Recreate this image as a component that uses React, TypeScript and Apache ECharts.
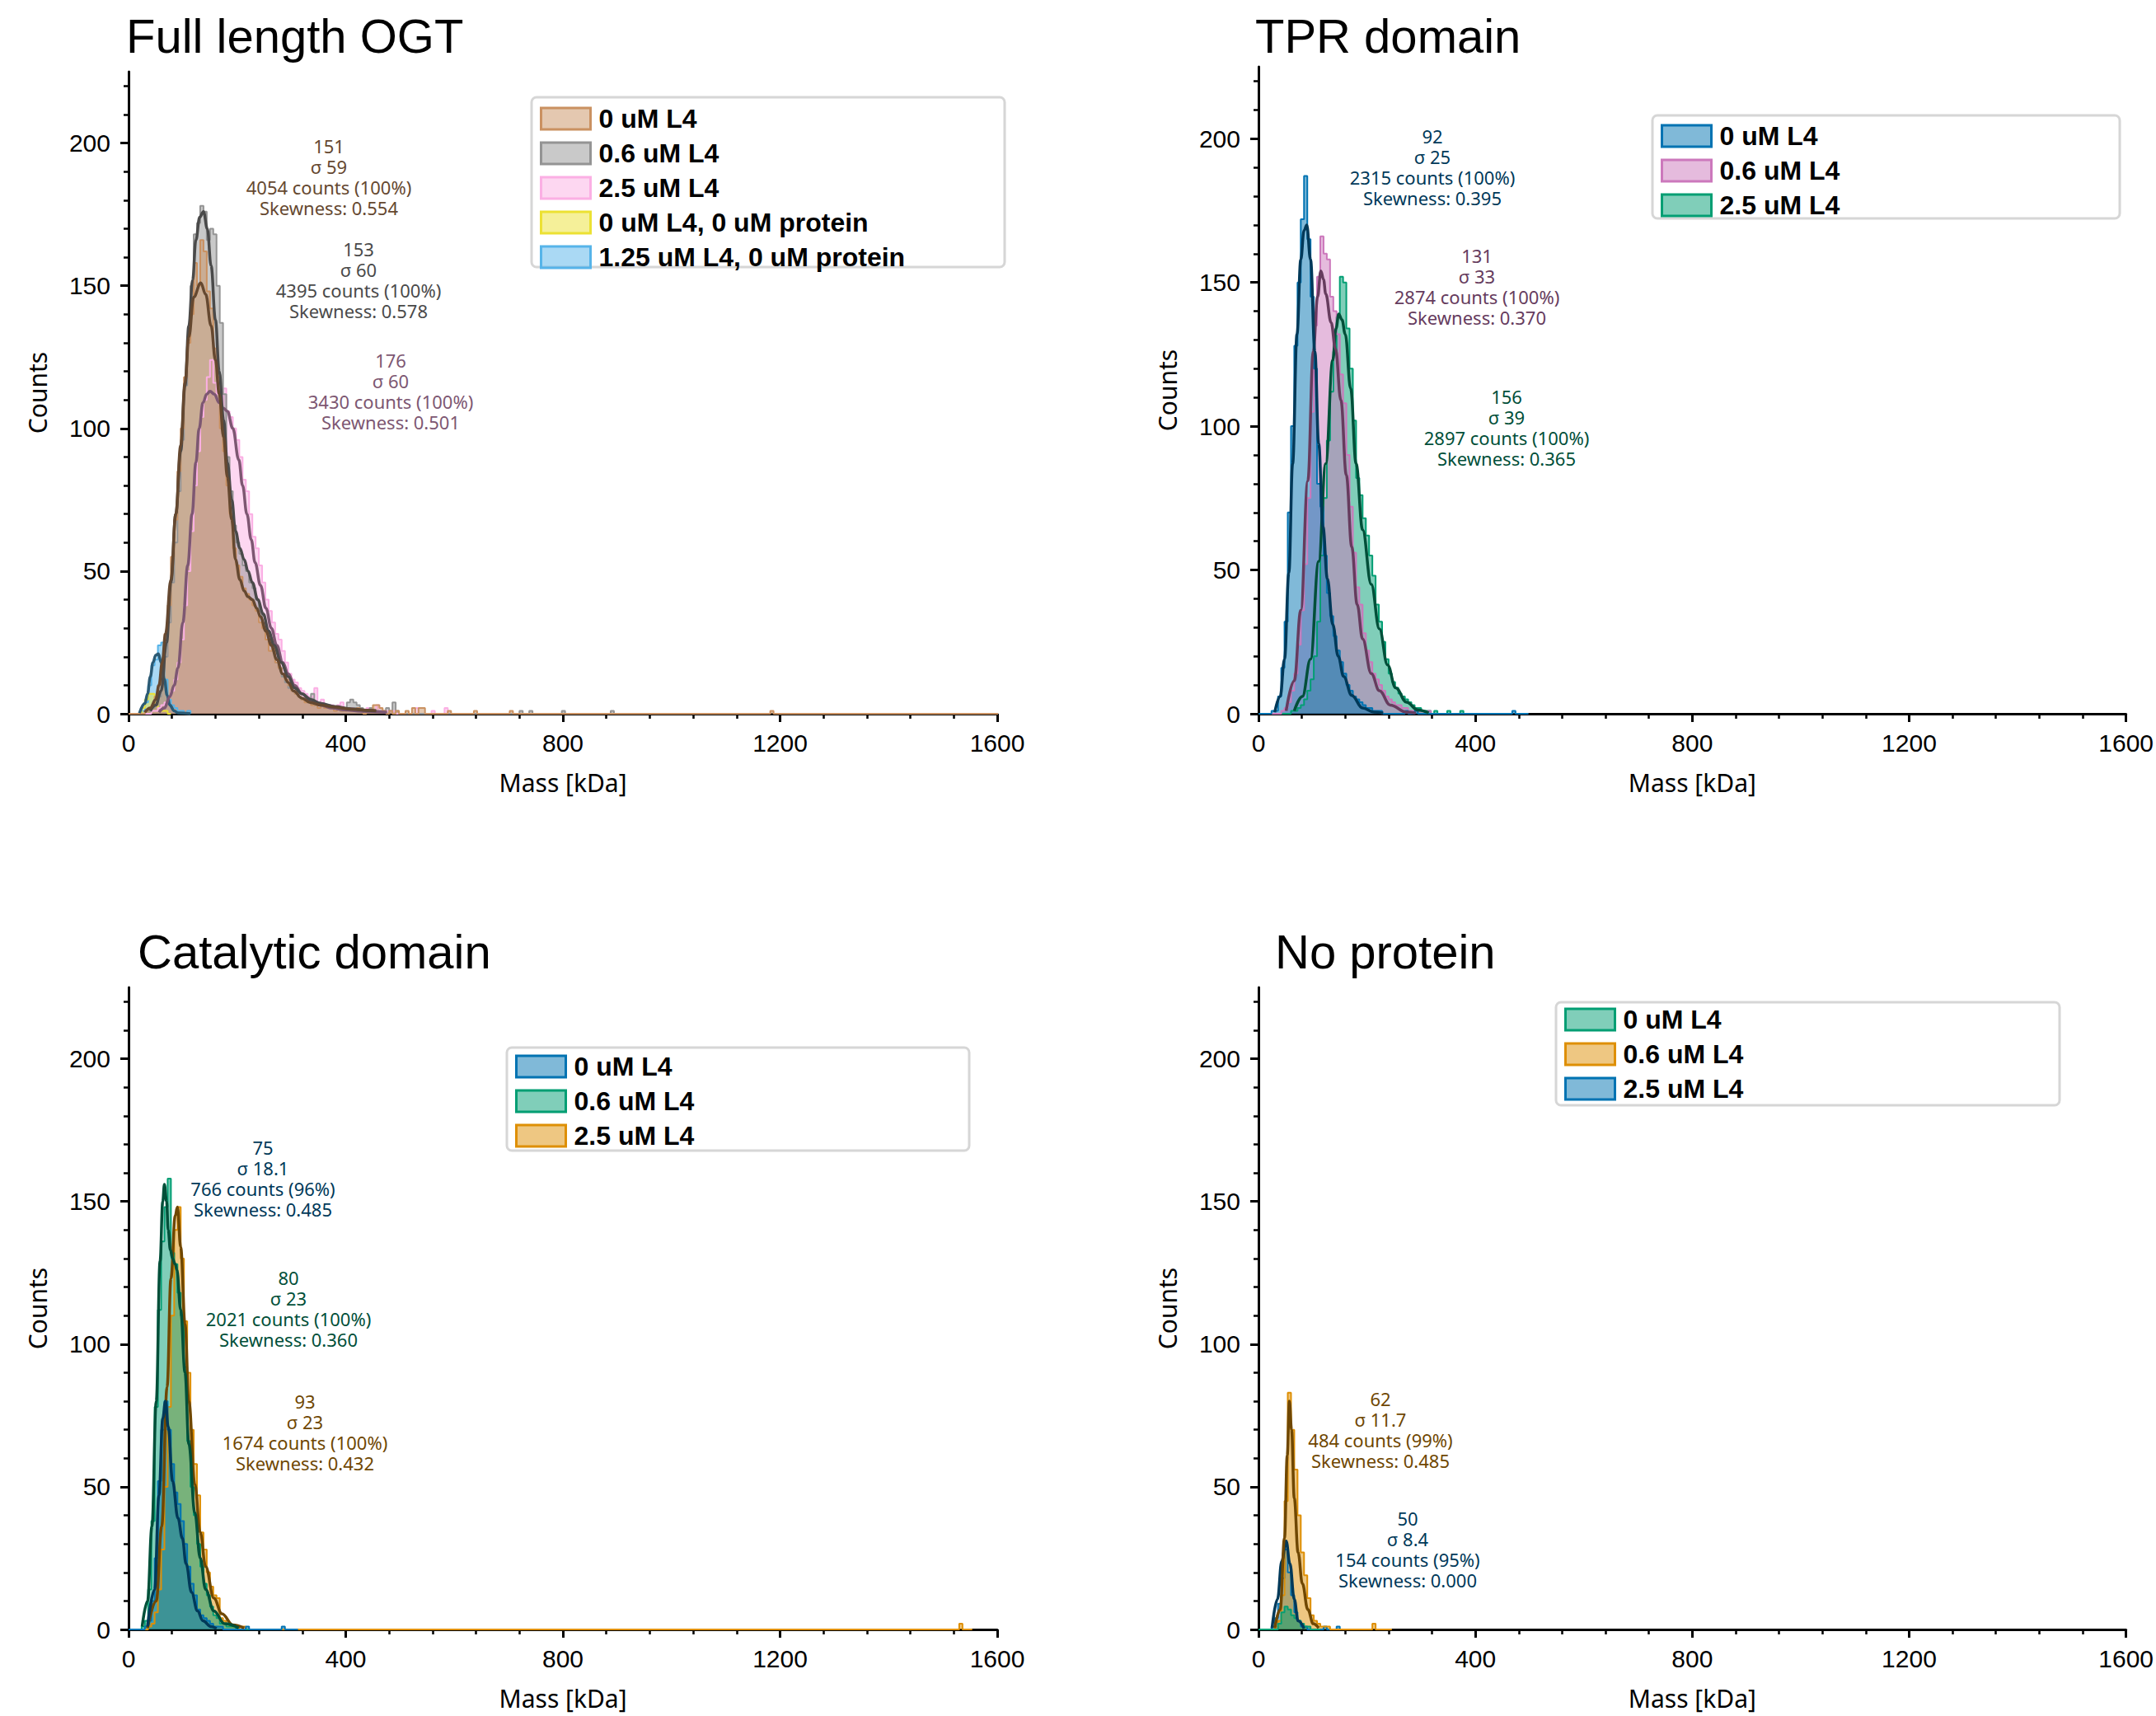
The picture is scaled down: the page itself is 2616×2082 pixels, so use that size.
import React, { useEffect, useRef } from "react";
import * as echarts from "echarts";

// ---------- axis definitions ----------
const BIN_WIDTH = 6; // kDa per histogram bin
const X_MAX = 1600;
const X_INTERVAL = 400;
const Y_MAX = 225;
const yMajorTicks = [0, 50, 100, 150, 200];
const yMinorTicks = [10, 20, 30, 40, 60, 70, 80, 90, 110, 120, 130, 140, 160, 170, 180, 190, 210, 220];

// ---------- Panel 1: Full length OGT ----------
const p1Labels = ["0 uM L4", "0.6 uM L4", "2.5 uM L4", "0 uM L4, 0 uM protein", "1.25 uM L4, 0 uM protein"];
const p1Hist0 = [0,0,0,0,0,1,2,3,6,10,16,28,38,55,68,85,100,118,130,140,158,150,166,162,148,142,128,118,100,92,80,70,58,52,48,44,42,40,38,36,32,30,26,22,26,18,16,14,12,10,8,7,6,5,4,4,3,3,2,3,2,2,2,1,2,1,1,2,1,1,2,1,0,1,1,3,3,2,1,0,1,0,1,0,0,1,0,2,0,2,2,0];
const p1Tail0 = [[591, 1], [639, 1], [705, 1], [1182, 1]];
const p1End0 = 1600;
const p1Hist1 = [0,0,0,0,0,1,1,2,3,6,12,20,32,46,60,78,96,115,132,150,168,172,178,176,166,170,168,150,137,112,90,78,66,60,56,52,50,46,44,40,36,32,28,25,22,18,16,13,11,9,8,7,6,5,5,4,7,3,4,3,2,3,2,2,2,1,2,4,5,4,3,2,1,1,2,1,1,1,1,2,1,4,1];
const p1Tail1 = [[723, 1], [741, 1], [801, 1], [891, 1]];
const p1End1 = 900;
const p1Hist2 = [0,0,0,0,0,0,0,1,1,2,3,4,6,8,12,18,26,38,50,64,80,92,104,110,118,124,116,112,108,114,106,104,100,96,90,82,78,70,62,58,52,46,40,36,32,28,26,22,18,14,12,11,9,8,7,6,6,9,4,5,3,3,3,2,3,4,2,2,2,1,2,1,1,2,1,1,3,1,1,1,1,1];
const p1Tail2 = [[533, 2], [561, 1], [587, 2]];
const p1End2 = 600;
const p1Hist3 = [0,0,0,0,2,5,7,7,4,2,1,1];
const p1End3 = 75;
const p1Hist4 = [0,0,0,0,1,4,10,17,19,24,25,12,5,3,2,1,1,0,1];
const p1End4 = 114;
const p1Fit0 = [[30,0.5],[40,2],[50,5],[56,10],[62,18],[68,28],[78,47],[87,70],[96,94],[104,116],[111,132],[120,146],[133,151],[142,147],[152,136],[160,124],[167,112],[175,97],[182,83],[190,68],[197,54],[205,47],[213,43],[220,41],[228,40],[236,37],[243,34],[253,29],[263,24],[273,19],[284,14],[294,11],[304,8],[319,5.5],[334,4],[355,3],[375,2.4],[410,1.6],[446,1.2],[456,1.1]];
const p1Fit1 = [[40,1],[50,3],[60,8],[70,25],[78,46],[87,70],[96,92],[104,115],[111,136],[118,152],[124,166],[131,174],[138,176],[145,170],[152,157],[160,138],[167,120],[175,103],[182,88],[190,75],[197,64],[205,58],[213,54],[220,50],[228,46],[238,40],[248,35],[258,29],[268,24],[281,18],[294,13],[306,9],[319,7],[336,5],[354,3.6],[380,2.5],[410,1.7],[446,1.1],[456,1]];
const p1Fit2 = [[56,0.5],[66,2],[76,6],[84,10],[91,16],[100,32],[109,52],[117,70],[124,88],[130,100],[137,109],[144,112],[150,113],[158,112],[167,109],[175,107],[182,106],[192,100],[203,89],[210,80],[218,70],[226,61],[233,53],[243,45],[253,37],[263,30],[273,24],[284,18],[294,14],[306,10],[319,7],[336,4.5],[354,3],[375,2],[395,1.4],[430,0.9],[476,0.5]];
const p1Fit4 = [[20,0.2],[30,3.6],[35,7],[40,13],[45,18],[50,20.5],[55,21],[60,18],[66,12],[71,6.5],[76,3],[84,1],[91,0.3],[114,0]];

// ---------- Panel 2: TPR domain ----------
const p2Labels = ["0 uM L4", "0.6 uM L4", "2.5 uM L4"];
const p2Hist0 = [0,0,0,0,1,1,6,16,32,70,100,128,150,172,187,165,145,120,80,72,55,42,34,27,22,18,14,10,8,6,5,4,3,2,2,1,1,1];
const p2Tail0 = [[273, 1], [291, 1], [468, 1]];
const p2End0 = 496;
const p2Hist1 = [0,0,0,0,0,0,0,1,2,4,8,14,24,36,52,75,105,135,152,166,160,158,145,140,132,118,108,90,72,56,44,38,28,22,18,14,12,10,8,6,5,4,3,3,2,2,1,1,1,1,1,0,1];
const p2End1 = 320;
const p2Hist2 = [0,0,0,0,0,0,0,0,0,0,1,1,2,3,5,8,12,20,32,55,75,95,112,126,138,152,150,134,120,102,82,76,68,62,55,48,38,32,25,19,14,11,9,7,6,5,4,3,2,2,1,1,1,0,1];
const p2Tail2 = [[349, 1], [377, 1]];
const p2End2 = 390;
const p2Fit0 = [[30,0.5],[40,6],[48,19],[56,49],[63,87],[71,132],[78,158],[84,168],[89,170],[96,158],[104,126],[111,94],[119,65],[127,47],[137,31],[147,20],[157,13],[172,6.4],[192,2],[213,0.6],[230,0.2]];
const p2Fit1 = [[51,1],[66,11.5],[78,36],[91,81],[101,126],[109,145],[115,154],[120,151],[124,146],[134,136],[142,127],[152,109],[162,83],[172,58],[182,38],[192,26],[208,14],[223,8],[243,3],[273,0.6],[290,0.2]];
const p2Fit2 = [[66,1],[81,6],[96,19],[111,53],[124,87],[137,123],[143,134],[148,139],[154,137],[160,132],[170,113],[180,87],[192,64],[208,45],[223,29.5],[238,17],[253,9],[273,4],[294,1.3],[314,0.3]];

// ---------- Panel 3: Catalytic domain ----------
const p3Labels = ["0 uM L4", "0.6 uM L4", "2.5 uM L4"];
const p3Hist0 = [0,0,0,0,0,1,3,10,25,52,70,80,70,58,48,44,38,30,22,16,12,7,5,4,3,2,1,1,1];
const p3Tail0 = [[219, 1], [285, 1]];
const p3End0 = 310;
const p3Hist1 = [0,0,0,0,1,3,14,38,78,112,136,148,158,132,128,118,110,92,66,50,40,30,22,16,12,8,5,4,2,2,1,1,1];
const p3End1 = 230;
const p3Hist2 = [0,0,0,0,0,0,1,2,6,14,28,50,78,110,140,148,130,108,90,70,58,47,34,28,20,15,12,11,4,3,2,1,1,1,0,1];
const p3Tail2 = [[1530, 2]];
const p3End2 = 1552;
const p3Fit0 = [[35,1],[48,14],[56,47],[63,74],[68,80],[73,71],[81,52],[91,39],[99,32],[106,23],[116,13],[127,6.5],[137,3],[152,1],[162,0.3]];
const p3Fit1 = [[25,1],[35,10],[43,36],[51,80],[58,129],[63,150],[66,156],[70,150],[73,140],[77,133],[81,130],[86,128],[89,126],[96,112],[104,90],[111,65],[122,41],[132,25],[142,14],[157,6.5],[177,2],[203,0.5]];
const p3Fit2 = [[35,0.5],[51,10],[61,36],[71,85],[78,123],[86,145],[90,148],[96,134],[104,107],[111,80],[122,51],[132,34],[142,22],[157,11],[172,5.5],[192,1.6],[213,0.5]];

// ---------- Panel 4: No protein ----------
const p4Labels = ["0 uM L4", "0.6 uM L4", "2.5 uM L4"];
const p4Hist0 = [0,0,0,0,0,0,2,6,8,7,5,4,3,2,1,1];
const p4End0 = 110;
const p4Hist1 = [0,0,0,0,0,1,3,12,45,83,70,56,40,27,19,11,5,3,2,1,1];
const p4Tail1 = [[129, 1], [213, 2]];
const p4End1 = 243;
const p4Hist2 = [0,0,0,0,1,4,9,18,28,20,12,6,3,1,1];
const p4Tail2 = [[124, 1], [147, 1]];
const p4End2 = 152;
const p4Fit1 = [[30,0.5],[40,7],[48,32],[53,61],[57,80],[61,70],[66,46],[73,27],[81,16],[91,7],[101,2],[111,0.5]];
const p4Fit2 = [[25,0.5],[35,10.6],[43,24],[51,31],[58,23],[66,10.6],[73,3],[84,0.3]];

// ---------- annotation texts ----------
const p1Notes = [
  ["151", "σ 59", "4054 counts (100%)", "Skewness: 0.554"],
  ["153", "σ 60", "4395 counts (100%)", "Skewness: 0.578"],
  ["176", "σ 60", "3430 counts (100%)", "Skewness: 0.501"],
];
const p2Notes = [
  ["92", "σ 25", "2315 counts (100%)", "Skewness: 0.395"],
  ["131", "σ 33", "2874 counts (100%)", "Skewness: 0.370"],
  ["156", "σ 39", "2897 counts (100%)", "Skewness: 0.365"],
];
const p3Notes = [
  ["75", "σ 18.1", "766 counts (96%)", "Skewness: 0.485"],
  ["80", "σ 23", "2021 counts (100%)", "Skewness: 0.360"],
  ["93", "σ 23", "1674 counts (100%)", "Skewness: 0.432"],
];
const p4Notes = [
  ["62", "σ 11.7", "484 counts (99%)", "Skewness: 0.485"],
  ["50", "σ 8.4", "154 counts (95%)", "Skewness: 0.000"],
];

// ---------- colours ----------
const C_BLUE = "#0173b2", C_BLUE_D = "#003959";
const C_GREEN = "#029e73", C_GREEN_D = "#014f39";
const C_ORANGE = "#de8f05", C_ORANGE_D = "#6f4702";
const C_PURPLE = "#cc78bc", C_PURPLE_D = "#663c5e";
const C_TAN = "#ca9161", C_TAN_D = "#654830";
const C_GRAY = "#949494", C_GRAY_D = "#4a4a4a";
const C_PINK = "#fbafe4", C_PINK_D = "#7d5772";
const C_YELLOW = "#ece133";
const C_SKY = "#56b4e9", C_SKY_D = "#2b5a74";

function rgba(hex: string, a: number) {
  const v = parseInt(hex.slice(1), 16);
  return `rgba(${(v >> 16) & 255},${(v >> 8) & 255},${v & 255},${a})`;
}

function stepPoints(counts: number[], tail: number[][], end: number) {
  const n = Math.max(Math.ceil(end / BIN_WIDTH), counts.length);
  const bins = new Array(n).fill(0);
  counts.forEach((c, i) => (bins[i] = c));
  tail.forEach(([x, c]) => {
    bins[Math.floor(x / BIN_WIDTH)] += c;
  });
  const pts = bins.map((c, i) => [i * BIN_WIDTH, c]);
  pts.push([n * BIN_WIDTH, 0]);
  return pts;
}

type Hist = { name: string; color: string; dark?: string; counts: number[]; tail: number[][]; end: number; fit?: number[][] };
type Note = { x: number; y: number; color: string; lines: string[] };
type Panel = {
  title: string;
  titlePos: [number, number];
  grid: { left: number; top: number; width: number; height: number };
  box: [number, number, number, number];
  legendPos: [number, number];
  hists: Hist[];
  notes: Note[];
};

const panels: Panel[] = [
  {
    title: "Full length OGT",
    titlePos: [153, 14],
    grid: { left: 156, top: 87, width: 1054, height: 779 },
    box: [645, 118, 574, 206],
    legendPos: [655, 128],
    hists: [
      { name: p1Labels[0], color: C_TAN, dark: C_TAN_D, counts: p1Hist0, tail: p1Tail0, end: p1End0, fit: p1Fit0 },
      { name: p1Labels[1], color: C_GRAY, dark: C_GRAY_D, counts: p1Hist1, tail: p1Tail1, end: p1End1, fit: p1Fit1 },
      { name: p1Labels[2], color: C_PINK, dark: C_PINK_D, counts: p1Hist2, tail: p1Tail2, end: p1End2, fit: p1Fit2 },
      { name: p1Labels[3], color: C_YELLOW, counts: p1Hist3, tail: [], end: p1End3 },
      { name: p1Labels[4], color: C_SKY, dark: C_SKY_D, counts: p1Hist4, tail: [], end: p1End4, fit: p1Fit4 },
    ],
    notes: [
      { x: 399, y: 164, color: C_TAN_D, lines: p1Notes[0] },
      { x: 435, y: 289, color: C_GRAY_D, lines: p1Notes[1] },
      { x: 474, y: 424, color: C_PINK_D, lines: p1Notes[2] },
    ],
  },
  {
    title: "TPR domain",
    titlePos: [1523, 14],
    grid: { left: 1527, top: 81, width: 1053, height: 785 },
    box: [2005, 140, 567, 125],
    legendPos: [2015, 149],
    hists: [
      { name: p2Labels[0], color: C_BLUE, dark: C_BLUE_D, counts: p2Hist0, tail: p2Tail0, end: p2End0, fit: p2Fit0 },
      { name: p2Labels[1], color: C_PURPLE, dark: C_PURPLE_D, counts: p2Hist1, tail: [], end: p2End1, fit: p2Fit1 },
      { name: p2Labels[2], color: C_GREEN, dark: C_GREEN_D, counts: p2Hist2, tail: p2Tail2, end: p2End2, fit: p2Fit2 },
    ],
    notes: [
      { x: 1738, y: 152, color: C_BLUE_D, lines: p2Notes[0] },
      { x: 1792, y: 297, color: C_PURPLE_D, lines: p2Notes[1] },
      { x: 1828, y: 468, color: C_GREEN_D, lines: p2Notes[2] },
    ],
  },
  {
    title: "Catalytic domain",
    titlePos: [167, 1125],
    grid: { left: 156, top: 1198, width: 1054, height: 779 },
    box: [615, 1271, 561, 125],
    legendPos: [625, 1278],
    hists: [
      { name: p3Labels[0], color: C_BLUE, dark: C_BLUE_D, counts: p3Hist0, tail: p3Tail0, end: p3End0, fit: p3Fit0 },
      { name: p3Labels[1], color: C_GREEN, dark: C_GREEN_D, counts: p3Hist1, tail: [], end: p3End1, fit: p3Fit1 },
      { name: p3Labels[2], color: C_ORANGE, dark: C_ORANGE_D, counts: p3Hist2, tail: p3Tail2, end: p3End2, fit: p3Fit2 },
    ],
    notes: [
      { x: 319, y: 1379, color: C_BLUE_D, lines: p3Notes[0] },
      { x: 350, y: 1537, color: C_GREEN_D, lines: p3Notes[1] },
      { x: 370, y: 1687, color: C_ORANGE_D, lines: p3Notes[2] },
    ],
  },
  {
    title: "No protein",
    titlePos: [1547, 1125],
    grid: { left: 1527, top: 1198, width: 1053, height: 779 },
    box: [1888, 1216, 611, 125],
    legendPos: [1898, 1221],
    hists: [
      { name: p4Labels[0], color: C_GREEN, counts: p4Hist0, tail: [], end: p4End0 },
      { name: p4Labels[1], color: C_ORANGE, dark: C_ORANGE_D, counts: p4Hist1, tail: p4Tail1, end: p4End1, fit: p4Fit1 },
      { name: p4Labels[2], color: C_BLUE, dark: C_BLUE_D, counts: p4Hist2, tail: p4Tail2, end: p4End2, fit: p4Fit2 },
    ],
    notes: [
      { x: 1675, y: 1684, color: C_ORANGE_D, lines: p4Notes[0] },
      { x: 1708, y: 1829, color: C_BLUE_D, lines: p4Notes[1] },
    ],
  },
];

function buildOption() {
  const axisLabelFont = { fontFamily: "Liberation Sans", fontSize: 30, color: "#000" };
  const nameFont = { fontFamily: "Noto Sans", fontSize: 30, color: "#000" };

  const title = panels.map((p) => ({
    text: p.title,
    left: p.titlePos[0],
    top: p.titlePos[1],
    padding: 0,
    textStyle: { fontFamily: "Liberation Sans", fontSize: 58, fontWeight: "normal", color: "#000" },
  }));

  const grid = panels.map((p) => ({ ...p.grid, containLabel: false }));

  const xAxis = panels.map((p, k) => ({
    gridIndex: k,
    type: "value",
    min: 0,
    max: X_MAX,
    interval: X_INTERVAL,
    name: "Mass [kDa]",
    nameLocation: "middle",
    nameGap: 68,
    nameTextStyle: nameFont,
    axisLine: { show: true, onZero: false, lineStyle: { color: "#000", width: 3 } },
    axisTick: { show: true, length: 10, lineStyle: { color: "#000", width: 3 } },
    minorTick: { show: true, splitNumber: 5, length: 6, lineStyle: { color: "#000", width: 2.5 } },
    axisLabel: { ...axisLabelFont, margin: 20, formatter: (v: number) => String(v) },
    splitLine: { show: false },
    minorSplitLine: { show: false },
  }));

  const yAxis: any[] = [];
  panels.forEach((p, k) => {
    yAxis.push({
      gridIndex: k,
      type: "value",
      position: "left",
      min: 0,
      max: Y_MAX,
      name: "Counts",
      nameLocation: "middle",
      nameGap: 96,
      nameTextStyle: nameFont,
      axisLine: { show: true, onZero: false, lineStyle: { color: "#000", width: 3 } },
      axisTick: { show: true, length: 10, customValues: yMajorTicks, lineStyle: { color: "#000", width: 3 } },
      axisLabel: { ...axisLabelFont, margin: 22, customValues: yMajorTicks, formatter: (v: number) => String(v) },
      splitLine: { show: false },
    });
    yAxis.push({
      gridIndex: k,
      type: "value",
      position: "left",
      offset: 0,
      min: 0,
      max: Y_MAX,
      axisLine: { show: false },
      axisTick: { show: true, length: 6, customValues: yMinorTicks, lineStyle: { color: "#000", width: 2.5 } },
      axisLabel: { show: false },
      splitLine: { show: false },
    });
  });

  const legend = panels.map((p) => ({
    orient: "vertical",
    left: p.legendPos[0],
    top: p.legendPos[1],
    padding: 0,
    itemWidth: 60,
    itemHeight: 26,
    itemGap: 10,
    icon: "rect",
    selectedMode: false,
    textStyle: {
      fontFamily: "Liberation Sans",
      fontSize: 32,
      fontWeight: "bold",
      color: "#000",
      lineHeight: 30,
      padding: [0, 0, 0, 5],
    },
    data: p.hists.map((h) => ({
      name: h.name,
      icon: "rect",
      itemStyle: { color: rgba(h.color, 0.5), borderColor: h.color, borderWidth: 3, opacity: 1 },
      lineStyle: { opacity: 0, width: 0 },
    })),
  }));

  const series: any[] = [];
  panels.forEach((p, k) => {
    // histograms: first legend entry drawn last (on top)
    [...p.hists].reverse().forEach((h) => {
      series.push({
        type: "line",
        name: h.name,
        xAxisIndex: k,
        yAxisIndex: 2 * k,
        data: stepPoints(h.counts, h.tail, h.end),
        step: "end",
        symbol: "none",
        silent: true,
        itemStyle: { color: h.color },
        lineStyle: { color: h.color, width: 2 },
        areaStyle: { color: h.color, opacity: 0.5 },
        z: 2,
      });
    });
    [...p.hists].reverse().forEach((h) => {
      if (!h.fit) return;
      series.push({
        type: "line",
        name: h.name + " fit",
        xAxisIndex: k,
        yAxisIndex: 2 * k,
        data: h.fit,
        smooth: 0.4,
        smoothMonotone: "x",
        symbol: "none",
        silent: true,
        itemStyle: { color: h.dark },
        lineStyle: { color: h.dark, width: 3.5 },
        z: 3,
      });
    });
  });

  const elements: any[] = [];
  panels.forEach((p) => {
    elements.push({
      type: "rect",
      shape: { x: p.box[0], y: p.box[1], width: p.box[2], height: p.box[3], r: 6 },
      style: { fill: "#ffffff", stroke: "#d6d6d6", lineWidth: 3 },
      z: 1,
      silent: true,
    });
    p.notes.forEach((n) => {
      elements.push({
        type: "text",
        x: n.x,
        y: n.y,
        style: {
          text: n.lines.join("\n"),
          fill: n.color,
          fontFamily: "Noto Sans",
          fontSize: 22,
          lineHeight: 25,
          align: "center",
          verticalAlign: "top",
        },
        z: 10,
        silent: true,
      });
    });
  });

  return {
    animation: false,
    backgroundColor: "#ffffff",
    title,
    grid,
    xAxis,
    yAxis,
    legend,
    series,
    graphic: { elements },
  };
}

export default function App() {
  const ref = useRef<HTMLDivElement>(null);
  useEffect(() => {
    if (!ref.current) return;
    const chart = echarts.init(ref.current, undefined, { renderer: "svg" });
    chart.setOption(buildOption() as any);
    return () => chart.dispose();
  }, []);
  return (
    <div
      ref={ref}
      style={{ position: "absolute", left: 0, top: 0, width: 2616, height: 2082, background: "#fff" }}
    />
  );
}
